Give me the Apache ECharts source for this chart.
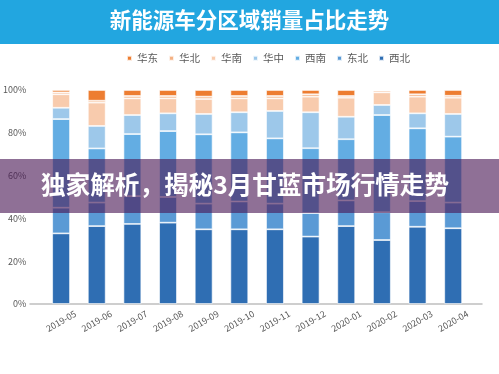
<!DOCTYPE html>
<html>
<head>
<meta charset="utf-8">
<script src="https://cdn.jsdelivr.net/npm/echarts@6/dist/echarts.min.js"></script>
<style>
html,body{margin:0;padding:0;background:#fff;}
#c{width:499px;height:374px;}
</style>
</head>
<body>
<div id="c"></div>
<script>
var categories = ['2019-05','2019-06','2019-07','2019-08','2019-09','2019-10','2019-11','2019-12','2020-01','2020-02','2020-03','2020-04'];
var legendOrder = ['华东','华北','华南','华中','西南','东北','西北'];
var xibei   = [33.0, 36.4, 37.4, 38.0, 34.9, 34.9, 34.9, 31.5, 36.4, 29.9, 36.1, 35.4];
var dongbei = [12.0, 11.0, 13.0, 12.0, 12.0, 13.0, 12.0, 11.0, 12.0, 13.0, 12.0, 12.0];
var xinan   = [41.4, 25.3, 29.0, 30.8, 32.4, 32.3, 30.5, 30.3, 28.6, 45.4, 34.0, 30.8];
var huazhong= [5.3, 10.5, 8.9, 8.3, 9.5, 9.4, 12.8, 16.8, 10.5, 4.7, 7.0, 10.6];
var huanan  = [6.3, 10.9, 7.8, 7.0, 7.0, 6.5, 5.9, 7.3, 8.9, 5.9, 7.8, 7.6];
var huabei  = [0.9, 0.9, 1.1, 1.1, 1.1, 1.1, 1.1, 1.1, 0.8, 0.8, 1.1, 0.9];
var huadong = [1.1, 5.0, 2.8, 2.8, 3.1, 2.8, 2.8, 2.0, 2.8, 0.3, 2.0, 2.7];
var yTicks = [0, 20, 40, 60, 80, 100];
var titleText = '新能源车分区域销量占比走势';
var bannerText = '独家解析，揭秘3月甘蓝市场行情走势';

var font = '"Noto Sans CJK SC", "Noto Sans", sans-serif';
var seriesDefs = [
  {name:'西北', data:xibei,   color:'#2F6EB3'},
  {name:'东北', data:dongbei, color:'#5A9AD5'},
  {name:'西南', data:xinan,   color:'#63ADE3'},
  {name:'华中', data:huazhong,color:'#9DC8EA'},
  {name:'华南', data:huanan,  color:'#F8CBAD'},
  {name:'华北', data:huabei,  color:'#F4B183'},
  {name:'华东', data:huadong, color:'#ED7D31'}
];
var series = seriesDefs.map(function(s){
  return {
    name:s.name, type:'bar', stack:'total', data:s.data,
    xAxisIndex:0, yAxisIndex:0,
    barWidth:'50%',
    itemStyle:{color:s.color, borderColor:'rgba(255,255,255,0.8)', borderWidth:0.8},
    emphasis:{disabled:true}
  };
});

var chart = echarts.init(document.getElementById('c'), null, {renderer:'canvas'});
chart.setOption({
  animation:false,
  textStyle:{fontFamily:font},
  legend:{
    data:legendOrder, left:121, top:48, itemWidth:5, itemHeight:5, itemGap:10,
    icon:'rect', textStyle:{fontSize:10.5, color:'#595959', fontFamily:font}
  },
  grid:[
    {left:41, right:28, top:90, bottom:70, containLabel:false},
    {left:30, right:17, top:90, bottom:70, containLabel:false}
  ],
  xAxis:[
    {type:'category', data:categories, gridIndex:0,
     axisLine:{show:false}, axisTick:{show:false},
     axisLabel:{rotate:30, align:'center', verticalAlign:'middle', margin:17, fontSize:9, color:'#595959', fontFamily:font}},
    {type:'category', data:[''], gridIndex:1,
     axisLine:{show:true, lineStyle:{color:'#BFBFBF', width:1.5}}, axisTick:{show:false}, axisLabel:{show:false}}
  ],
  yAxis:[
    {type:'value', gridIndex:0, min:yTicks[0], max:yTicks[yTicks.length-1], interval:20,
     axisLine:{show:false}, axisTick:{show:false}, splitLine:{show:false},
     axisLabel:{formatter:'{value}%', fontSize:9, color:'#595959', margin:17, fontFamily:font}},
    {type:'value', gridIndex:1, min:0, max:100, show:false}
  ],
  series:series,
  graphic:[
    {type:'rect', left:0, top:0, z:100, shape:{width:499, height:44}, style:{fill:'#22A6E0'}},
    {type:'text', left:'center', top:9, z:101, style:{text:titleText, fill:'#fff', font:'bold 21.5px ' + font}},
    {type:'rect', left:0, top:159, z:100, shape:{width:499, height:54}, style:{fill:'rgba(74,24,85,0.62)'}},
    {type:'text', left:41, top:172, z:101, style:{text:bannerText, fill:'#fff', font:'bold 24.6px ' + font}}
  ]
});
</script>
</body>
</html>
